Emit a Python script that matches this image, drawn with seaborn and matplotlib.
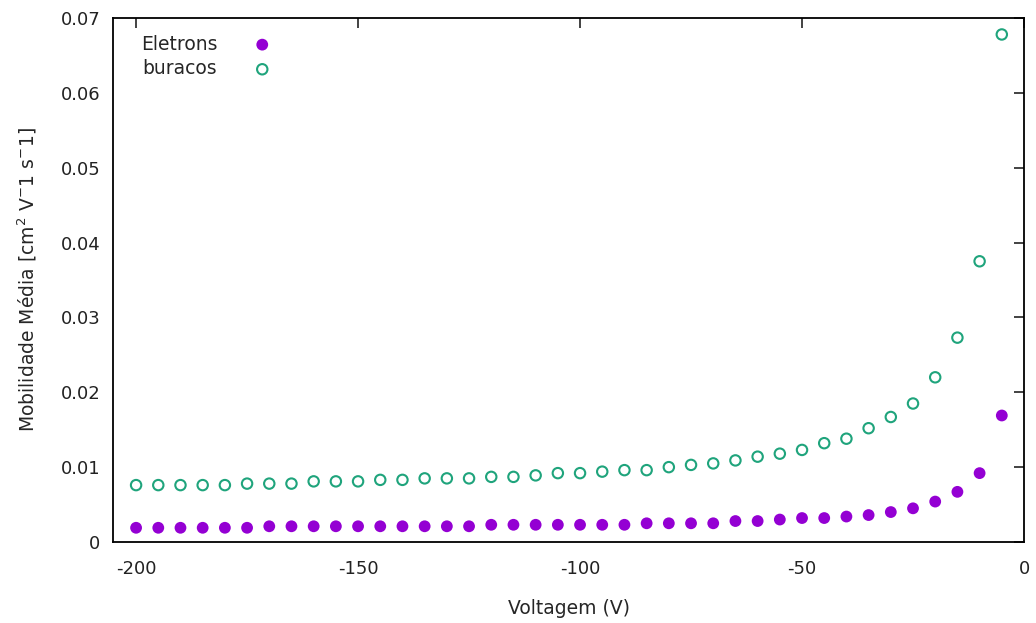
import numpy as np
import pandas as pd
import matplotlib
matplotlib.use("Agg")
import matplotlib.pyplot as plt
import seaborn as sns

voltage = [-200, -195, -190, -185, -180, -175, -170, -165, -160, -155,
           -150, -145, -140, -135, -130, -125, -120, -115, -110, -105,
           -100, -95, -90, -85, -80, -75, -70, -65, -60, -55,
           -50, -45, -40, -35, -30, -25, -20, -15, -10, -5]

eletrons = [0.0019, 0.0019, 0.0019, 0.0019, 0.0019, 0.0019, 0.0021, 0.0021, 0.0021, 0.0021,
            0.0021, 0.0021, 0.0021, 0.0021, 0.0021, 0.0021, 0.0023, 0.0023, 0.0023, 0.0023,
            0.0023, 0.0023, 0.0023, 0.0025, 0.0025, 0.0025, 0.0025, 0.0028, 0.0028, 0.0030,
            0.0032, 0.0032, 0.0034, 0.0036, 0.0040, 0.0045, 0.0054, 0.0067, 0.0092, 0.0169]

buracos = [0.0076, 0.0076, 0.0076, 0.0076, 0.0076, 0.0078, 0.0078, 0.0078, 0.0081, 0.0081,
           0.0081, 0.0083, 0.0083, 0.0085, 0.0085, 0.0085, 0.0087, 0.0087, 0.0089, 0.0092,
           0.0092, 0.0094, 0.0096, 0.0096, 0.0100, 0.0103, 0.0105, 0.0109, 0.0114, 0.0118,
           0.0123, 0.0132, 0.0138, 0.0152, 0.0167, 0.0185, 0.0220, 0.0273, 0.0375, 0.0678]

x_ticks = [-200, -150, -100, -50, 0]
y_ticks = [0, 0.01, 0.02, 0.03, 0.04, 0.05, 0.06, 0.07]
y_tick_labels = ["0", "0.01", "0.02", "0.03", "0.04", "0.05", "0.06", "0.07"]

df = pd.DataFrame({"Voltagem": voltage, "Eletrons": eletrons, "buracos": buracos})

sns.set_style("white")
plt.rcParams["font.family"] = ["DejaVu Sans"]
plt.rcParams["mathtext.fontset"] = "dejavusans"

fig = plt.figure(figsize=(10.36, 6.23), dpi=100)
L, R, T, B = 113, 1024, 18, 542
ax = fig.add_axes([L / 1036, 1 - B / 623, (R - L) / 1036, (B - T) / 623])

sns.scatterplot(data=df, x="Voltagem", y="Eletrons", ax=ax, color="#9400D3",
                s=72, edgecolor="none", linewidth=0, label="Eletrons", zorder=3)
sns.scatterplot(data=df, x="Voltagem", y="buracos", ax=ax, facecolor="none",
                edgecolor="#1FA47C", s=56, linewidth=1.5, label="buracos", zorder=3)

ax.set_xlim(-205.2, 0)
ax.set_ylim(0, 0.07)
ax.set_xticks(x_ticks)
ax.set_xticklabels([str(t) for t in x_ticks])
ax.set_yticks(y_ticks)
ax.set_yticklabels(y_tick_labels)
ax.tick_params(direction="in", length=7, width=1.2, top=True, right=True,
               labelsize=13, colors="#222222")
ax.tick_params(axis="x", pad=13)
ax.tick_params(axis="y", pad=9)
for sp in ax.spines.values():
    sp.set_linewidth(1.3)
    sp.set_color("black")

ax.set_xlabel("Voltagem (V)", fontsize=13.5, labelpad=15)
ax.set_ylabel(r"Mobilidade Média [cm$^2$ V$^{-}$1 s$^{-}$1]", fontsize=13.5, labelpad=16)

leg = ax.legend(loc="upper left", frameon=False, markerfirst=False, fontsize=13.5,
                handletextpad=1.4, borderaxespad=0.4, labelspacing=0.3,
                bbox_to_anchor=(0.014, 0.997))

fig.savefig("out.png", dpi=100)
